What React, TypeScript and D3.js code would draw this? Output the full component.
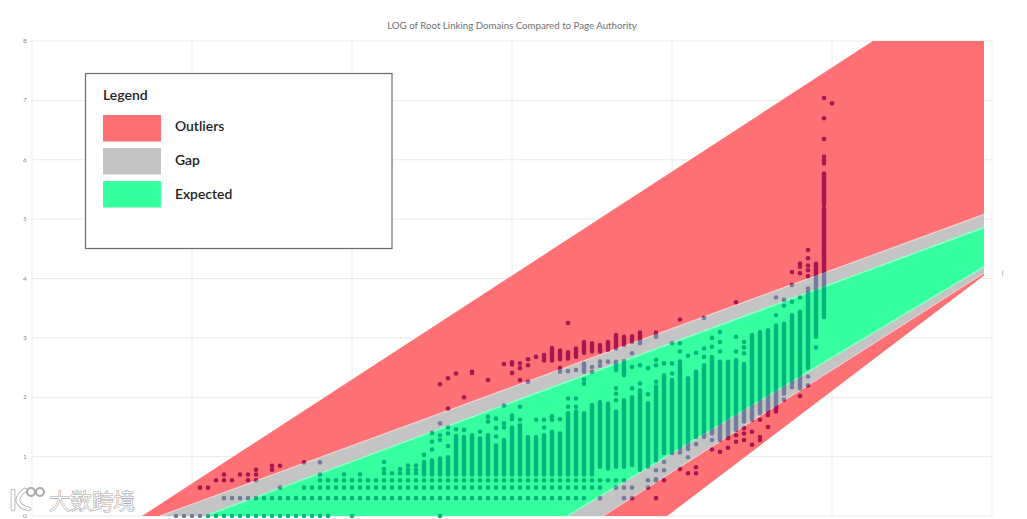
import React from "react";
import { scaleLinear, line } from "d3";

const WIDTH = 1027;
const HEIGHT = 519;

const title = "LOG of Root Linking Domains Compared to Page Authority";
const yTicks = [0, 1, 2, 3, 4, 5, 6, 7, 8];
const xTicks = [0, 20, 40, 60, 80, 100, 120];

// band outlines, [page authority, log10 domains]
const outlierUpper = [[13.75, 0], [105.1, 8], [119, 8], [119, 5.08], [16, 0]];
const gapUpper = [[16, 0], [119, 5.08], [119, 4.86], [21.6, 0]];
const expected = [[21.6, 0], [119, 4.86], [119, 4.2], [66.9, 0]];
const gapLower = [[66.9, 0], [119, 4.2], [119, 4.09], [71.4, 0]];
const outlierLower = [[71.4, 0], [119, 4.09], [119, 4.05], [79.4, 0]];

// the low rows are whole domain counts: [domains, page authorities]
const lowRows: [number, number[]][] = [
  [1, [18, 19, 20, 21, 22, 23, 24, 25, 26, 27, 28, 29, 30, 31, 32, 33, 34, 35, 36, 37, 40, 51]],
  [2, [24, 25, 26, 27, 28, 29, 30, 31, 32, 33, 34, 35, 36, 37, 38, 39, 40, 41, 42, 43, 44, 45, 46, 47, 48, 49, 50, 51, 52, 53, 54, 55, 56, 57, 58, 59, 60, 61, 62, 63, 64, 65, 66, 67, 68, 69, 71, 74, 75, 78]],
  [3, [21, 22, 31, 34, 35, 36, 37, 38, 39, 40, 41, 42, 43, 44, 45, 46, 47, 48, 49, 50, 51, 52, 53, 54, 55, 56, 57, 58, 59, 60, 61, 62, 63, 64, 65, 66, 67, 68, 69, 70, 71, 73, 74, 75, 77]],
  [4, [23, 24, 25, 27, 28, 36, 37, 38, 39, 40, 41, 42, 43, 44, 45, 46, 47, 48, 49, 50, 51, 52, 53, 54, 55, 56, 57, 58, 59, 60, 61, 62, 63, 64, 65, 66, 67, 68, 69, 70, 71, 72, 73, 74, 77, 78, 79]],
  [5, [24, 26, 27, 28, 36, 39, 41]],
  [6, [28, 30]],
  [7, [30, 31]],
  [8, [34, 36]],
];

// dense stretches of a column: [page authority, low, high]
const strips: [number, number, number][] = [
  [49, 0.7, 0.91], [50, 0.7, 0.94], [51, 0.7, 0.97], [52, 0.7, 0.99], [53, 0.7, 1.35],
  [54, 0.7, 1.33], [55, 0.7, 1.36], [56, 0.7, 1.31], [57, 0.7, 1.36], [58, 0.7, 1.19],
  [59, 0.7, 1.28], [60, 0.7, 1.49], [61, 0.7, 1.53], [62, 0.7, 1.33], [63, 0.7, 1.33],
  [64, 0.7, 1.36], [65, 0.7, 1.42], [66, 0.7, 1.39], [67, 0.7, 1.73], [68, 0.7, 1.76],
  [69, 0.7, 1.73], [70, 0.7, 1.87], [71, 0.83, 1.92], [72, 0.8, 1.89], [73, 0.83, 1.76],
  [74, 0.83, 1.95], [75, 0.86, 2.0], [76, 0.78, 2.12], [77, 0.83, 1.9], [78, 0.94, 2.18],
  [79, 1.06, 2.37], [80, 1.06, 2.29], [81, 1.22, 2.54], [82, 1.2, 2.32], [83, 1.33, 2.43],
  [84, 1.33, 2.54], [85, 1.39, 2.68], [86, 1.28, 2.6], [87, 1.33, 2.6], [88, 1.45, 2.63],
  [89, 1.59, 2.56], [90, 1.62, 3.05], [91, 1.73, 3.1], [92, 1.76, 3.13], [93, 1.76, 3.21],
  [94, 2.06, 3.24], [95, 2.23, 3.38], [96, 2.15, 3.44], [97, 2.49, 3.78], [98, 3.02, 4.25],
  [99, 3.35, 5.18], [99, 5.24, 5.77],
  [65, 2.62, 2.83], [66, 2.64, 2.79], [67, 2.65, 2.76], [68, 2.68, 2.82], [69, 2.75, 2.93],
  [70, 2.77, 2.91], [71, 2.77, 2.88], [72, 2.8, 2.93], [73, 2.82, 3.05], [74, 2.88, 3.02],
  [75, 2.93, 3.03], [76, 2.91, 3.09], [78, 3.02, 3.09], [69, 2.43, 2.57], [73, 2.46, 2.6],
  [74, 2.37, 2.61],
];

// single readings above or below the dense stretches
const sparse: [number, number[]][] = [
  [44, [0.91, 0.79, 0.72]], [45, [0.72]], [46, [0.79, 0.72]], [47, [0.85, 0.78, 0.72]],
  [48, [0.85, 0.78, 0.72]], [49, [1.03]], [50, [1.4, 1.25, 1.12]], [51, [2.22, 1.56, 1.36, 1.28]],
  [52, [2.32, 1.81, 1.49, 1.39, 1.18]], [53, [2.4, 1.46]], [54, [2.0, 1.45]], [55, [2.43, 2.41]],
  [56, [1.42]], [57, [2.29, 1.67, 1.59]], [58, [1.64, 1.48, 1.34]], [59, [2.56, 1.86, 1.56, 1.49]],
  [60, [2.59, 2.55, 2.41, 1.69, 1.63]], [61, [2.57, 2.49, 2.29, 1.84, 1.62]], [62, [2.64, 2.54, 2.26]],
  [63, [2.68, 1.62]], [64, [2.71, 2.66, 2.62, 1.62, 1.49]], [65, [1.68, 1.62]],
  [66, [2.49, 2.43, 1.63]], [67, [3.25, 2.44, 1.98, 1.84]], [68, [2.46, 1.98, 1.84]],
  [69, [2.3, 2.23]], [70, [2.51, 2.43]], [71, [2.6, 2.53]], [72, [2.6]], [73, [2.15, 2.06, 1.95]],
  [75, [2.74, 2.51, 2.15]], [76, [2.54, 2.23]], [77, [2.49, 2.05]], [78, [2.63, 2.54, 2.26, 0.77, 0.62]],
  [79, [2.57, 0.91, 0.77]], [80, [2.91, 2.57, 2.4, 1.06]], [81, [3.31, 2.91, 2.77, 2.6, 1.17, 1.13, 1.07, 0.79]],
  [82, [2.7, 1.17, 1.13, 0.99, 0.72]], [83, [2.75, 1.21, 0.82, 0.72]], [84, [3.34, 2.82, 2.68]],
  [85, [3.0, 2.85, 1.28, 1.12]], [86, [3.1, 2.93, 2.77, 1.08]], [87, [1.31, 1.15]],
  [88, [3.6, 3.02, 2.77, 1.48, 1.36, 1.25]], [89, [2.93, 2.84, 2.74, 1.48, 1.39, 1.28]],
  [90, [1.42, 1.2]], [91, [1.62, 1.33, 1.28]], [92, [1.7, 1.5]], [93, [3.68, 3.38]],
  [94, [3.64, 3.54, 1.96]], [95, [4.11, 3.89, 3.61, 2.17]], [96, [4.25, 4.2, 4.09, 3.68, 2.02]],
  [97, [4.48, 4.34, 4.22, 4.14, 4.04, 3.83, 2.35, 2.2]], [98, [2.84]],
  [99, [7.04, 6.7, 6.35, 6.05, 5.99, 5.94]], [100, [6.95]],
];

const RED = "#ff7074";
const GREY = "#c4c4c4";
const GREEN = "#35ff9f";
const RED_DOT = "#a9184f";
const GREY_DOT = "#737c9f";
const GREEN_DOT = "#04b47b";

const bands = [
  { id: "upper-outliers", outline: outlierUpper, fill: RED, dot: RED_DOT },
  { id: "upper-gap", outline: gapUpper, fill: GREY, dot: GREY_DOT },
  { id: "expected", outline: expected, fill: GREEN, dot: GREEN_DOT },
  { id: "lower-gap", outline: gapLower, fill: GREY, dot: GREY_DOT },
  { id: "lower-outliers", outline: outlierLower, fill: RED, dot: RED_DOT },
];

const legendItems = [
  { label: "Outliers", fill: RED },
  { label: "Gap", fill: GREY },
  { label: "Expected", fill: GREEN },
];

const x = scaleLinear().domain([0, 120]).range([32, 992]);
const y = scaleLinear().domain([0, 8]).range([516, 41]);
const bandPath = line<number[]>().x((d) => x(d[0])).y((d) => y(d[1]));

function Points() {
  return (
    <>
      {lowRows.map(([count, pas]) =>
        pas.map((pa) => <circle key={`r${count}-${pa}`} cx={x(pa)} cy={y(Math.log10(count))} r={2.3} />)
      )}
      {sparse.map(([pa, vals]) =>
        vals.map((v) => <circle key={`s${pa}-${v}`} cx={x(pa)} cy={y(v)} r={2.3} />)
      )}
      {strips.map(([pa, lo, hi]) => (
        <line
          key={`l${pa}-${lo}`}
          x1={x(pa)}
          x2={x(pa)}
          y1={y(lo)}
          y2={y(hi)}
          stroke="currentColor"
          strokeWidth={4.4}
          strokeLinecap="round"
        />
      ))}
    </>
  );
}

export default function App() {
  return (
    <svg
      width={WIDTH}
      height={HEIGHT}
      style={{ position: "absolute", left: 0, top: 0, background: "#fff" }}
      fontFamily="Lato, sans-serif"
    >
      <defs>
        <filter id="soft" x="-2%" y="-2%" width="104%" height="104%">
          <feGaussianBlur stdDeviation="0.55" />
        </filter>
        {bands.map((b) => {
          // the row on the axis hangs a little below the band, so its clip runs on down
          const base = b.outline.filter((d) => d[1] === 0).map((d) => x(d[0]));
          return (
            <clipPath id={`clip-${b.id}`} key={b.id}>
              <path d={bandPath(b.outline) + "Z"} />
              <rect x={Math.min(...base)} y={y(0) - 0.5} width={Math.max(...base) - Math.min(...base)} height={3.5} />
            </clipPath>
          );
        })}
      </defs>

      <text x={512} y={29} textAnchor="middle" fontSize={9.7} fill="#707070">
        {title}
      </text>

      {/* grid */}
      <g stroke="#ebebeb" strokeWidth={1}>
        {yTicks.map((t) => (
          <line key={t} x1={x(0)} x2={x(120)} y1={y(t)} y2={y(t)} />
        ))}
        {xTicks.map((t) => (
          <line key={t} x1={x(t)} x2={x(t)} y1={y(8)} y2={y(0)} />
        ))}
      </g>
      <g fontSize={6.5} fill="#8a8a8a" textAnchor="middle">
        {yTicks.map((t) => (
          <text key={t} x={25} y={y(t) + 2}>
            {t}
          </text>
        ))}
      </g>
      <text x={1002} y={275} fontSize={6} fill="#666">
        (
      </text>

      <g filter="url(#soft)">
        {bands.map((b) => (
          <path key={b.id} d={bandPath(b.outline) + "Z"} fill={b.fill} />
        ))}
        {/* pale seams where the bands meet */}
        <path d={bandPath(gapUpper.slice(0, 2)) ?? ""} stroke="#eed2d2" strokeWidth={1.2} fill="none" />
        <path d={bandPath(gapLower.slice(2)) ?? ""} stroke="#eed2d2" strokeWidth={1} fill="none" />
        <path d={bandPath(expected.slice(0, 2)) ?? ""} stroke="#8dffc6" strokeWidth={1.6} fill="none" />
        <path d={bandPath(expected.slice(2)) ?? ""} stroke="#8dffc6" strokeWidth={1.4} fill="none" />
        {bands.map((b) => (
          <g key={b.id} clipPath={`url(#clip-${b.id})`} fill={b.dot} color={b.dot}>
            <Points />
          </g>
        ))}
      </g>

      {/* legend */}
      <rect x={85.5} y={73.5} width={306.5} height={175} fill="#fff" stroke="#6b6b6b" strokeWidth={1.2} />
      <text x={103} y={100} fontSize={14} fontWeight={600} fill="#222">
        Legend
      </text>
      <g filter="url(#soft)">
        {legendItems.map((item, i) => (
          <rect key={item.label} x={103} y={115 + i * 33} width={58} height={26.5} fill={item.fill} />
        ))}
      </g>
      {legendItems.map((item, i) => (
        <text key={item.label} x={175} y={131 + i * 34} fontSize={13.9} fontWeight={600} fill="#222">
          {item.label}
        </text>
      ))}

      {/* watermark */}
      <g fill="none" strokeLinecap="round">
        <path d="M13 491 L13 509 M25 490 Q15 498 19 503 Q22 508 29 509" stroke="#aaa" strokeWidth={4.6} />
        <path d="M13 491 L13 509 M25 490 Q15 498 19 503 Q22 508 29 509" stroke="#fff" strokeWidth={3} />
        <circle cx={31} cy={492} r={4} stroke="#aaa" strokeWidth={2.2} fill="#fff" />
        <circle cx={40} cy={492} r={4} stroke="#aaa" strokeWidth={2.2} fill="#fff" />
      </g>
      <text
        x={49}
        y={509}
        fontFamily="'Noto Sans CJK SC', sans-serif"
        fontSize={21.5}
        fontWeight={300}
        fill="#fff"
        stroke="#a8a8a8"
        strokeWidth={1.2}
        paintOrder="stroke"
      >
        大数跨境
      </text>
    </svg>
  );
}
